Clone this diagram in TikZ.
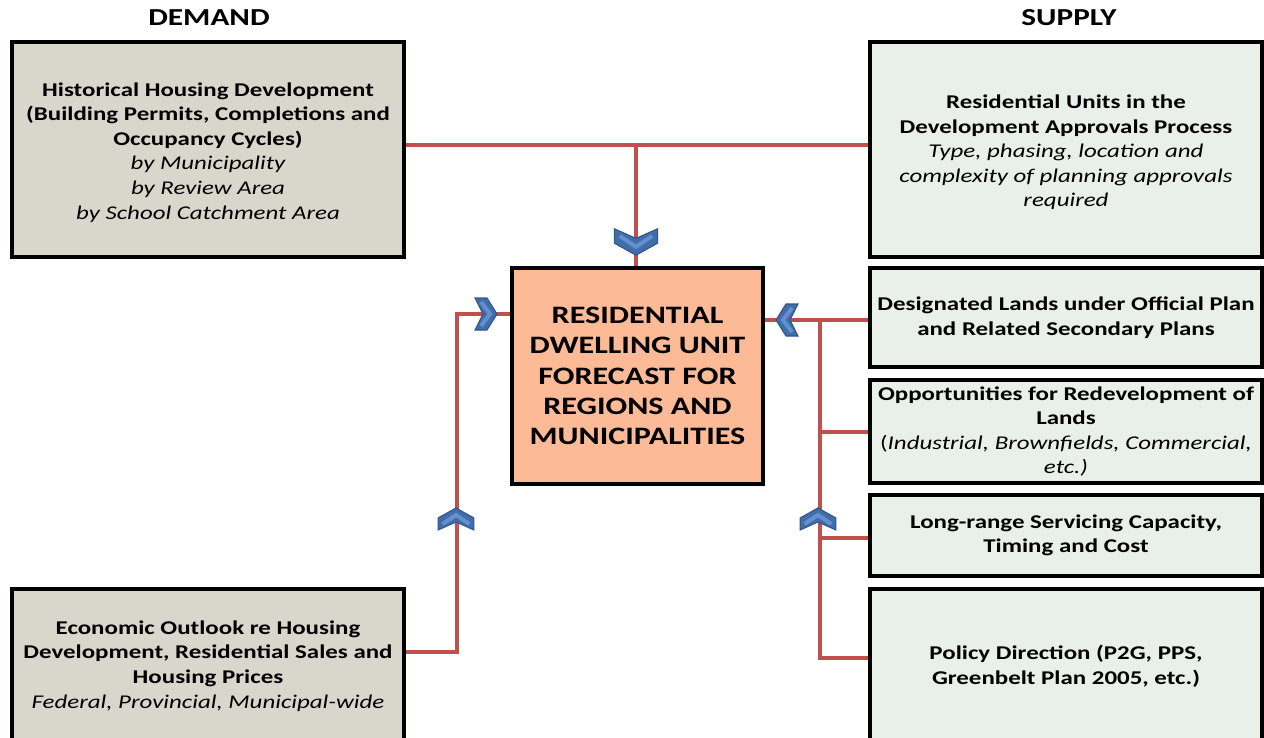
\documentclass[tikz,border=0pt]{standalone}
\usepackage{fontspec}
\setmainfont{Carlito}[FakeStretch=1.28]
\definecolor{demandfill}{RGB}{217,215,203}
\definecolor{supplyfill}{RGB}{233,239,233}
\definecolor{centerfill}{RGB}{252,187,150}
\definecolor{linkred}{RGB}{192,80,77}
\definecolor{chevfill}{RGB}{65,110,170}
\definecolor{chevlight}{RGB}{100,145,205}
\definecolor{chevedge}{RGB}{47,86,140}
\newcommand\itl[1]{{\mdseries\itshape #1}}
\tikzset{
  box/.style={draw=black, line width=2.6pt, align=center, inner sep=0pt,
    font=\fontsize{14.6pt}{18.4pt}\selectfont\bfseries},
  demandbox/.style={box, fill=demandfill},
  supplybox/.style={box, fill=supplyfill},
  link/.style={draw=linkred, line width=2.3pt},
  title/.style={font=\fontsize{18.3pt}{20pt}\selectfont\bfseries},
  chev/.pic={
    \path[fill=chevfill, draw=chevedge, line width=0.8pt, line join=miter]
      (-11,-16) -- (1,-16) -- (11,0) -- (1,16) -- (-11,16) -- (-3,0) -- cycle;
    \path[draw=chevlight, line width=3pt, line join=miter]
      (-5,-12) -- (4,0) -- (-5,12);
  }
}
\begin{document}
\begin{tikzpicture}[x=0.75pt, y=-0.75pt]
\useasboundingbox (0,0) rectangle (1264,738);
\begin{scope}
\clip (0,0) rectangle (1264,738);
% titles
\node[title] (tdem) at (209,18) {DEMAND};
\node[title] (tsup) at (1069,18) {SUPPLY};
% boxes
\node[demandbox, minimum width=294pt, minimum height=161.25pt] (hist) at (208,149.5) {};
\node[box, draw=none, fill=none] (histtext) at ([yshift=-2.2pt]hist.center)
  {Historical Housing Development\\(Building Permits, Completions and\\Occupancy Cycles)\\
   \itl{by Municipality}\\\itl{by Review Area}\\\itl{by School Catchment Area}};
\node[supplybox, minimum width=294pt, minimum height=161.25pt] (units) at (1066,149.5) {};
\node[box, draw=none, fill=none] (unitstext) at ([yshift=-2.2pt]units.center)
  {Residential Units in the\\Development Approvals Process\\
   \itl{Type, phasing, location and}\\\itl{complexity of planning approvals}\\\itl{required}};
\node[draw=black, line width=2.6pt, fill=centerfill, minimum width=188pt, minimum height=162pt,
  align=center, inner sep=0pt, font=\fontsize{18.8pt}{22.6pt}\selectfont\bfseries] (fc) at (637.5,376)
  {RESIDENTIAL\\DWELLING UNIT\\FORECAST FOR\\REGIONS AND\\MUNICIPALITIES};
\node[supplybox, minimum width=294pt, minimum height=74.25pt] (lands) at (1066,317.5)
  {Designated Lands under Official Plan\\and Related Secondary Plans};
\node[supplybox, minimum width=294pt, minimum height=77.25pt] (redev) at (1066,431.5)
  {Opportunities for Redevelopment of\\Lands\\
   {\mdseries(}\itl{Industrial, Brownfields, Commercial,}\\\itl{etc.)}};
\node[supplybox, minimum width=294pt, minimum height=60.75pt] (serv) at (1066,535.5)
  {Long-range Servicing Capacity,\\Timing and Cost};
\node[supplybox, minimum width=294pt, minimum height=115.5pt] (policy) at (1066,666)
  {Policy Direction (P2G, PPS,\\Greenbelt Plan 2005, etc.)};
\node[demandbox, minimum width=294pt, minimum height=115.5pt] (econ) at (208,666)
  {Economic Outlook re Housing\\Development, Residential Sales and\\Housing Prices\\
   \itl{Federal, Provincial, Municipal-wide}};
% connector coordinates
\coordinate (topj) at (636,145);
\coordinate (lcorner1) at (457,652);
\coordinate (lcorner2) at (457,314);
\coordinate (rtrunk) at (820,320);
\coordinate (rbot) at (820,658);
% top connector
\draw[link] (hist.east |- topj) -- (units.west |- topj);
\draw[link] (topj) -- (fc.north -| topj);
% left connector
\draw[link] (econ.east |- lcorner1) -- (lcorner1) -- (lcorner2) -- (fc.west |- lcorner2);
% right connectors
\draw[link] (lands.west |- rtrunk) -- (fc.east |- rtrunk);
\draw[link] (rtrunk) -- (rbot) -- (policy.west |- rbot);
\draw[link] (rtrunk |- 0,432) -- (redev.west |- 0,432);
\draw[link] (rtrunk |- 0,538) -- (serv.west |- 0,538);
% chevrons
\pic[rotate=-90, xscale=1.2, yscale=1.35] at (636,242) {chev};
\pic[rotate=90, xscale=1.0, yscale=1.12] at (456,519) {chev};
\pic[rotate=90, xscale=1.0, yscale=1.12] at (818,519) {chev};
\pic at (486,314) {chev};
\pic[rotate=180] at (787,320) {chev};
\end{scope}
\end{tikzpicture}
\end{document}
